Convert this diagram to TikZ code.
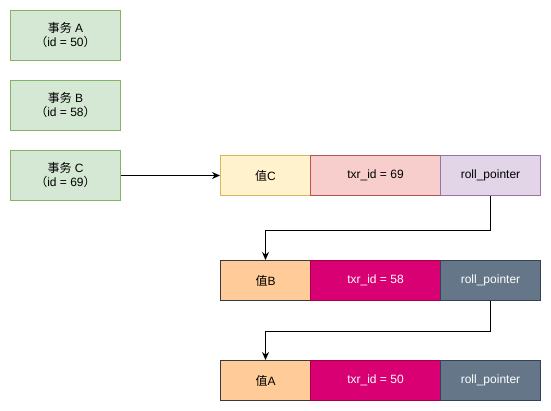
\documentclass[tikz,border=0pt]{standalone}
\usepackage{fontspec}
\setmainfont{Liberation Sans}
\newfontfamily\cjk{Noto Sans CJK SC}
\usetikzlibrary{positioning, arrows.meta}
\definecolor{txfill}{HTML}{D5E8D4}
\definecolor{txline}{HTML}{82B366}
\definecolor{yfill}{HTML}{FFF2CC}
\definecolor{yline}{HTML}{D6B656}
\definecolor{rfill}{HTML}{F8CECC}
\definecolor{rline}{HTML}{B85450}
\definecolor{pfill}{HTML}{E1D5E7}
\definecolor{pline}{HTML}{9673A6}
\definecolor{ofill}{HTML}{FFCC99}
\definecolor{oline}{HTML}{36393D}
\definecolor{mfill}{HTML}{D80073}
\definecolor{mline}{HTML}{A50040}
\definecolor{gfill}{HTML}{647687}
\definecolor{gline}{HTML}{314354}
\tikzset{
  tx/.style    = {draw=txline, fill=txfill, rectangle, align=center, inner sep=0pt,
                  minimum width=110pt, minimum height=50pt, anchor=north west,
                  font=\fontsize{12}{14}\selectfont},
  cell/.style  = {rectangle, inner sep=0pt, minimum height=40pt, anchor=north west,
                  font=\fontsize{12}{14}\selectfont},
  val/.style   = {cell, minimum width=90pt},
  tid/.style   = {cell, minimum width=130pt},
  ptr/.style   = {cell, minimum width=100pt},
  ar/.style    = {-{Stealth[length=8pt, width=7pt]}, line width=1pt},
}

\begin{document}
\begin{tikzpicture}[x=1pt, y=-1pt, line width=1pt]
    \useasboundingbox (0,0) rectangle (551,411);
    % transactions
    \node[tx] (txA) at (10,10)  {{\cjk 事务} A\\{\cjk （}id = 50{\cjk ）}};
    \node[tx] (txB) at (10,80)  {{\cjk 事务} B\\{\cjk （}id = 58{\cjk ）}};
    \node[tx] (txC) at (10,150) {{\cjk 事务} C\\{\cjk （}id = 69{\cjk ）}};
    % version C
    \node[val, draw=yline, fill=yfill] (valC) at (220,155) {{\cjk 值}C};
    \node[tid, draw=rline, fill=rfill] (tidC) at (310,155) {txr\_id = 69};
    \node[ptr, draw=pline, fill=pfill] (rpC)  at (440,155) {roll\_pointer};
    % version B
    \node[val, draw=oline, fill=ofill] (valB) at (220,260) {{\cjk 值}B};
    \node[tid, draw=mline, fill=mfill, text=white] (tidB) at (310,260) {txr\_id = 58};
    \node[ptr, draw=gline, fill=gfill, text=white] (rpB)  at (440,260) {roll\_pointer};
    % version A
    \node[val, draw=oline, fill=ofill] (valA) at (220,360) {{\cjk 值}A};
    \node[tid, draw=mline, fill=mfill, text=white] (tidA) at (310,360) {txr\_id = 50};
    \node[ptr, draw=gline, fill=gfill, text=white] (rpA)  at (440,360) {roll\_pointer};
    % links
    \draw[ar] (txC.east) -- (valC.west);
    \draw[ar] (rpC.south) -- ++(0,35) -| (valB.north);
    \draw[ar] (rpB.south) -- ++(0,30) -| (valA.north);
  \end{tikzpicture}
\end{document}
